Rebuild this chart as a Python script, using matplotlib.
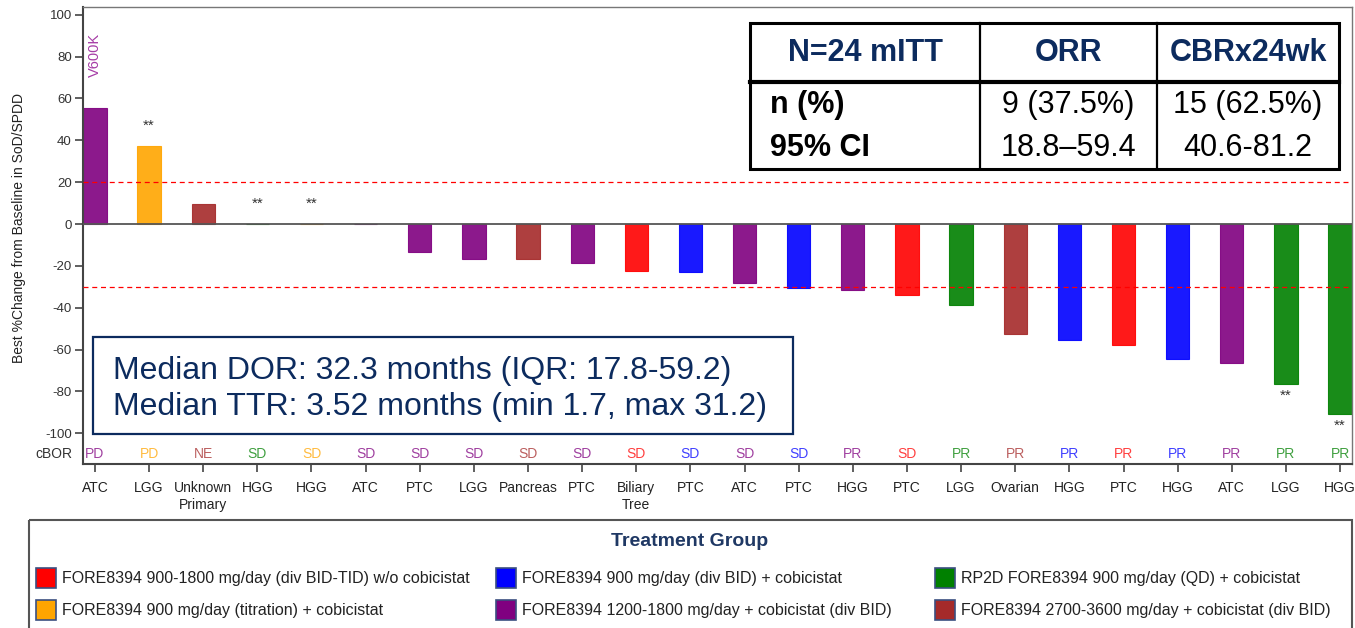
import matplotlib
matplotlib.use("Agg")
import matplotlib.pyplot as plt
from matplotlib.patches import Rectangle

# Waterfall of best % change per patient (sorted), with tumour type and confirmed BOR
tumours = ["ATC", "LGG", "Unknown\nPrimary", "HGG", "HGG", "ATC", "PTC", "LGG", "Pancreas", "PTC",
           "Biliary\nTree", "PTC", "ATC", "PTC", "HGG", "PTC", "LGG", "Ovarian", "HGG", "PTC",
           "HGG", "ATC", "LGG", "HGG"]
best_change = [55.5, 37.5, 9.8, 0, 0, 0, -13.5, -16.8, -16.8, -18.8, -22.5, -23.0, -28.2, -30.5,
               -31.6, -34.1, -38.9, -52.6, -55.2, -57.9, -64.7, -66.4, -76.4, -90.8]
cbor = ["PD", "PD", "NE", "SD", "SD", "SD", "SD", "SD", "SD", "SD", "SD", "SD", "SD", "SD",
        "PR", "SD", "PR", "PR", "PR", "PR", "PR", "PR", "PR", "PR"]
# index into groups below
group = [4, 3, 5, 2, 3, 4, 4, 4, 5, 4, 0, 1, 4, 1, 4, 0, 2, 5, 1, 0, 1, 4, 2, 2]
starred = [1, 3, 4, 22, 23]

groups = ["FORE8394 900-1800 mg/day (div BID-TID) w/o cobicistat",
          "FORE8394 900 mg/day (div BID) + cobicistat",
          "RP2D FORE8394 900 mg/day (QD) + cobicistat",
          "FORE8394 900 mg/day (titration) + cobicistat",
          "FORE8394 1200-1800 mg/day + cobicistat (div BID)",
          "FORE8394 2700-3600 mg/day + cobicistat (div BID)"]
group_colors = ["#ff0000", "#0000ff", "#008000", "#ffa500", "#800080", "#a52a2a"]

table_header = ["N=24 mITT", "ORR", "CBRx24wk"]
table_rows = ["n (%)", "95% CI"]
orr = ["9 (37.5%)", "18.8\u201359.4"]
cbr = ["15 (62.5%)", "40.6-81.2"]

plt.rcParams["axes.unicode_minus"] = False
font = ["Liberation Sans", "DejaVu Sans"]
plt.rcParams["font.family"] = font
navy = "#0c2b5e"

W, H = 1355, 628
fig = plt.figure(figsize=(W / 100, H / 100), dpi=100)
ax = fig.add_axes([83 / W, 1 - 464.3 / H, (1352 - 83) / W, (464.3 - 7) / H])

x = list(range(len(best_change)))
colors = [group_colors[g] for g in group]
ax.bar(x, best_change, width=0.43, color=colors, edgecolor=colors, linewidth=0.8, alpha=0.9, zorder=2)

ax.axhline(0, color="#555555", lw=1.3, zorder=3)
ax.axhline(20, color="red", lw=0.9, ls=(0, (4, 3)), zorder=4)
ax.axhline(-30, color="red", lw=0.9, ls=(0, (4, 3)), zorder=4)

for i in starred:
    v = best_change[i]
    y = v + 9.5 if v >= 0 else v - 5.5
    ax.text(i, y, "**", ha="center", va="center", fontsize=11, color="#333333")

ax.text(0, 81, "V600K", rotation=90, ha="center", va="center", fontsize=10.5, color="#a63ca6")

for i, (lab, g) in enumerate(zip(cbor, group)):
    ax.text(i, -110, lab, ha="center", va="center", fontsize=10, color=group_colors[g], alpha=0.75)
ax.text(-0.008, -110, "cBOR", transform=ax.get_yaxis_transform(), ha="right", va="center",
        fontsize=10, color="#333333")

ax.set_xlim(-0.22, len(x) - 1 + 0.22)
ax.set_ylim(-114.8, 103.7)
ax.set_yticks(range(-100, 101, 20))
ax.set_xticks(x)
ax.set_xticklabels(tumours, fontsize=10, color="#222222", linespacing=1.3)
for t in ax.get_yticklabels():
    t.set_fontsize(9.5)
    t.set_color("#333333")
ax.tick_params(axis="both", length=6, width=1.2, color="#444444", pad=2)
ax.tick_params(axis="x", pad=6)
ax.set_ylabel("Best %Change from Baseline in SoD/SPDD", fontsize=10, color="#222222")
ax.yaxis.set_label_coords(-0.045, 0.517)
for side in ["left", "bottom"]:
    ax.spines[side].set_color("#444444")
    ax.spines[side].set_linewidth(1.5)
for side in ["top", "right"]:
    ax.spines[side].set_color("#777777")
    ax.spines[side].set_linewidth(1.0)

# overlay in pixel units for the table, the summary box and the legend panel
ov = fig.add_axes([0, 0, 1, 1], zorder=5)
ov.set_xlim(0, W)
ov.set_ylim(H, 0)
ov.axis("off")
ov.patch.set_visible(False)

# response table
tx = [750, 980, 1157, 1339]
ty = [22.5, 82, 168.5]
ov.add_patch(Rectangle((tx[0], ty[0]), tx[3] - tx[0], ty[2] - ty[0], fill=True, facecolor="white",
                       edgecolor="black", lw=2.2))
ov.plot([tx[0], tx[3]], [ty[1], ty[1]], color="black", lw=3)
for xx in tx[1:3]:
    ov.plot([xx, xx], [ty[0], ty[2]], color="black", lw=1.6)
centers = [(tx[k] + tx[k + 1]) / 2 for k in range(3)]
for c, s in zip(centers, table_header):
    ov.text(c, 53, s, ha="center", va="center", fontsize=22, fontweight="bold", color=navy)
for r, yy in enumerate([105, 148]):
    ov.text(770, yy, table_rows[r], ha="left", va="center", fontsize=22, fontweight="bold", color="black")
    ov.text(centers[1], yy, orr[r], ha="center", va="center", fontsize=22, color="black")
    ov.text(centers[2], yy, cbr[r], ha="center", va="center", fontsize=22, color="black")

# median DOR / TTR box
ov.add_patch(Rectangle((93, 337), 700, 97, fill=True, facecolor="white", edgecolor=navy, lw=1.6))
ov.text(113, 379, "Median DOR: 32.3 months (IQR: 17.8-59.2)", ha="left", va="baseline",
        fontsize=23, color=navy)
ov.text(113, 415, "Median TTR: 3.52 months (min 1.7, max 31.2)", ha="left", va="baseline",
        fontsize=23, color=navy)

# treatment group legend
ov.add_patch(Rectangle((29, 520), 1323, 130, fill=False, edgecolor="#555555", lw=1.5, clip_on=False))
ov.text(690, 541, "Treatment Group", ha="center", va="center", fontsize=14, fontweight="bold",
        color="#1f3864")
col_x = [36, 496, 935]
row_y = [578, 610]
for k, (name, col) in enumerate(zip(groups, group_colors)):
    sx = col_x[k % 3]
    sy = row_y[k // 3]
    ov.add_patch(Rectangle((sx, sy - 10), 20, 20, facecolor=col, edgecolor="#3b4f80", lw=1.2))
    ov.text(sx + 26, sy, name, ha="left", va="center", fontsize=11.5, color="#222222")

fig.savefig("out.png", dpi=100)
